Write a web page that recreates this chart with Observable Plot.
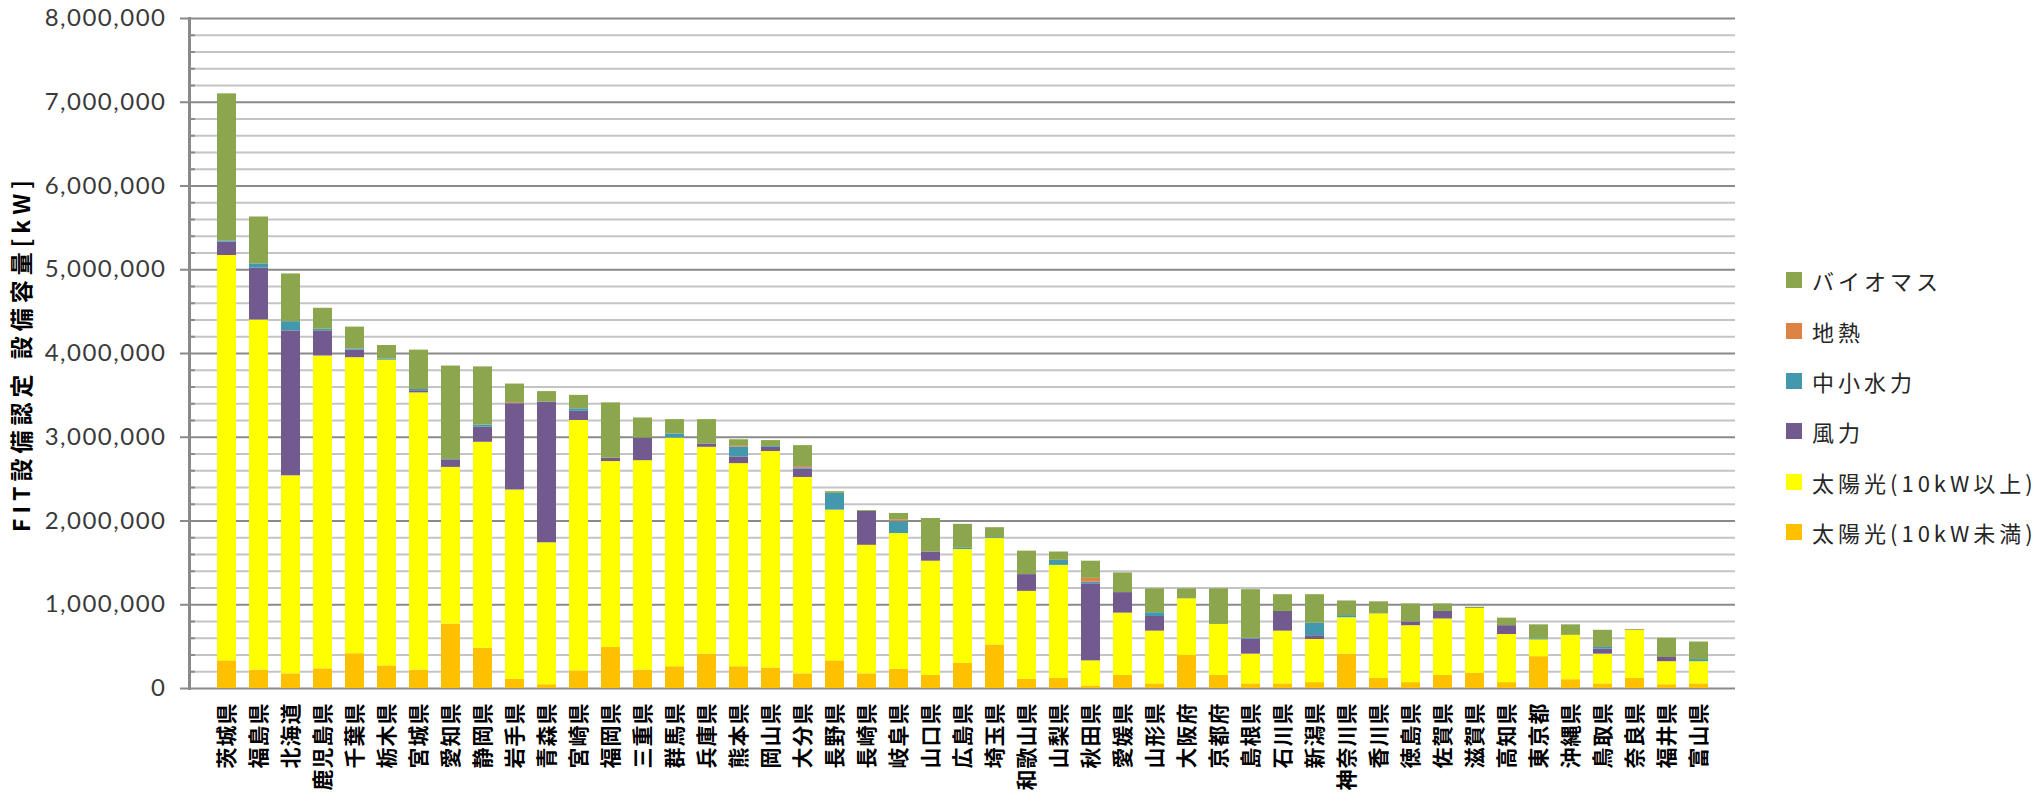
<!DOCTYPE html>
<html>
<head>
<meta charset="utf-8">
<script src="https://cdn.jsdelivr.net/npm/d3@7"></script>
<script src="https://cdn.jsdelivr.net/npm/@observablehq/plot@0.6"></script>
<style>
  html, body { margin: 0; padding: 0; background: #fff; }
  #wrap { position: relative; width: 2038px; height: 809px; overflow: hidden; }
  #legend { position: absolute; left: 1786px; top: 255px; font-family: "Noto Sans CJK JP", sans-serif; }
  .row { display: flex; align-items: center; height: 50.4px; }
  .sw { width: 16px; height: 16px; margin-right: 10px; flex: none; }
  .lb { font-size: 22px; letter-spacing: 4px; color: #262626; white-space: nowrap; }
  #wrap svg g[aria-label="y-axis label"] text { letter-spacing: 5px; }
  #wrap svg g[aria-label="y-axis tick label"] text { letter-spacing: 1.5px; }
  #wrap svg g[aria-label="x-axis tick label"] text { letter-spacing: 1px; }
</style>
</head>
<body>
<div id="wrap"><div id="legend"></div></div>
<script>
const prefectures = ["茨城県","福島県","北海道","鹿児島県","千葉県","栃木県","宮城県","愛知県","静岡県","岩手県","青森県","宮崎県","福岡県","三重県","群馬県","兵庫県","熊本県","岡山県","大分県","長野県","長崎県","岐阜県","山口県","広島県","埼玉県","和歌山県","山梨県","秋田県","愛媛県","山形県","大阪府","京都府","島根県","石川県","新潟県","神奈川県","香川県","徳島県","佐賀県","滋賀県","高知県","東京都","沖縄県","鳥取県","奈良県","福井県","富山県"];

const seriesNames = ["太陽光(10kW未満)","太陽光(10kW以上)","風力","中小水力","地熱","バイオマス"];
const seriesColors = ["#ffc000","#ffff00","#725a8f","#4398ae","#dd8444","#8ba64c"];

// kW
const solarSmall = [330000,220000,175000,235000,415000,270000,220000,770000,480000,110000,45000,210000,490000,220000,260000,410000,260000,245000,175000,330000,175000,230000,155000,300000,520000,110000,120000,30000,155000,55000,395000,155000,55000,55000,70000,410000,120000,70000,155000,180000,70000,380000,105000,55000,120000,45000,55000];
const solarLarge = [4840000,4180000,2365000,3735000,3535000,3650000,3310000,1870000,2460000,2260000,1695000,2990000,2220000,2500000,2730000,2470000,2425000,2585000,2345000,1800000,1535000,1620000,1365000,1360000,1270000,1050000,1350000,300000,745000,630000,675000,610000,355000,630000,515000,435000,770000,680000,675000,775000,575000,200000,530000,355000,575000,275000,265000];
const wind = [160000,620000,1730000,300000,90000,0,25000,90000,180000,1030000,1680000,110000,40000,270000,0,40000,80000,50000,100000,0,405000,0,110000,0,0,200000,0,920000,245000,175000,0,0,180000,235000,45000,0,0,45000,90000,0,105000,0,0,60000,0,50000,0];
const hydro = [15000,50000,110000,20000,15000,15000,15000,5000,25000,5000,0,30000,0,0,50000,0,120000,10000,15000,200000,0,145000,0,20000,10000,0,60000,20000,0,45000,0,0,10000,0,150000,25000,0,0,0,0,0,10000,0,20000,0,0,25000];
const geothermal = [0,0,0,0,0,0,0,0,0,10000,0,0,0,0,0,0,15000,0,15000,0,0,20000,0,0,0,0,0,45000,0,0,0,0,0,0,0,0,0,0,0,0,0,0,0,0,0,0,0];
const biomass = [1755000,560000,570000,250000,260000,160000,470000,1115000,695000,220000,125000,160000,660000,240000,170000,290000,70000,70000,250000,20000,10000,75000,400000,280000,120000,280000,100000,205000,235000,285000,120000,425000,580000,200000,340000,175000,145000,215000,90000,15000,90000,170000,125000,205000,10000,230000,210000];

const majorTicks = [0,1000000,2000000,3000000,4000000,5000000,6000000,7000000,8000000];
const minorTicks = d3.range(0, 8000001, 200000).filter(v => v % 1000000 !== 0);

const seriesValues = [solarSmall, solarLarge, wind, hydro, geothermal, biomass];
const data = [];
seriesNames.forEach((s, i) => {
  prefectures.forEach((p, j) => data.push({pref: p, series: s, value: seriesValues[i][j]}));
});

const chart = Plot.plot({
  width: 2038,
  height: 809,
  marginLeft: 189,
  marginRight: 303,
  marginTop: 18,
  marginBottom: 121,
  style: {background: "#fff", fontFamily: "Lato, sans-serif", overflow: "visible"},
  x: {domain: prefectures, padding: 0.42, label: null},
  y: {domain: [0, 8000000], label: null},
  color: {domain: seriesNames, range: seriesColors},
  marks: [
    Plot.gridY({ticks: minorTicks, stroke: "#c4c4c4", strokeOpacity: 1, strokeWidth: 2}),
    Plot.gridY({ticks: majorTicks, stroke: "#8a8a8a", strokeOpacity: 1, strokeWidth: 2}),
    Plot.barY(data, {x: "pref", y: "value", fill: "series", order: seriesNames}),
    Plot.frame({anchor: "left", stroke: "#8a8a8a", strokeWidth: 3}),
    Plot.axisY({ticks: majorTicks, tickSize: 9, tickPadding: 14, tickFormat: d3.format(","), stroke: "#8a8a8a", strokeWidth: 2, fontSize: 24, fill: "#3a3a3a", label: null}),
    Plot.axisY({ticks: minorTicks, tickSize: -6, stroke: "#8a8a8a", strokeWidth: 2, tickFormat: () => "", label: null}),
    Plot.axisY({ticks: [], label: "FIT設備認定 設備容量[kW]", labelAnchor: "center", labelArrow: "none", labelOffset: 176, fontSize: 23, fontWeight: "bold", fill: "#000", fontFamily: "Noto Sans CJK JP, sans-serif"}),
    Plot.axisX({tickRotate: -90, tickSize: 0, tickPadding: 14, fontSize: 21, fontWeight: "bold", fill: "#000", fontFamily: "Noto Sans CJK JP, sans-serif", label: null})
  ]
});
document.getElementById("wrap").prepend(chart);

const legend = document.getElementById("legend");
const legendOrder = [5,4,3,2,1,0];
legendOrder.forEach(i => {
  const row = document.createElement("div");
  row.className = "row";
  row.innerHTML = `<div class="sw" style="background:${seriesColors[i]}"></div><div class="lb">${seriesNames[i]}</div>`;
  legend.appendChild(row);
});
</script>
</body>
</html>
